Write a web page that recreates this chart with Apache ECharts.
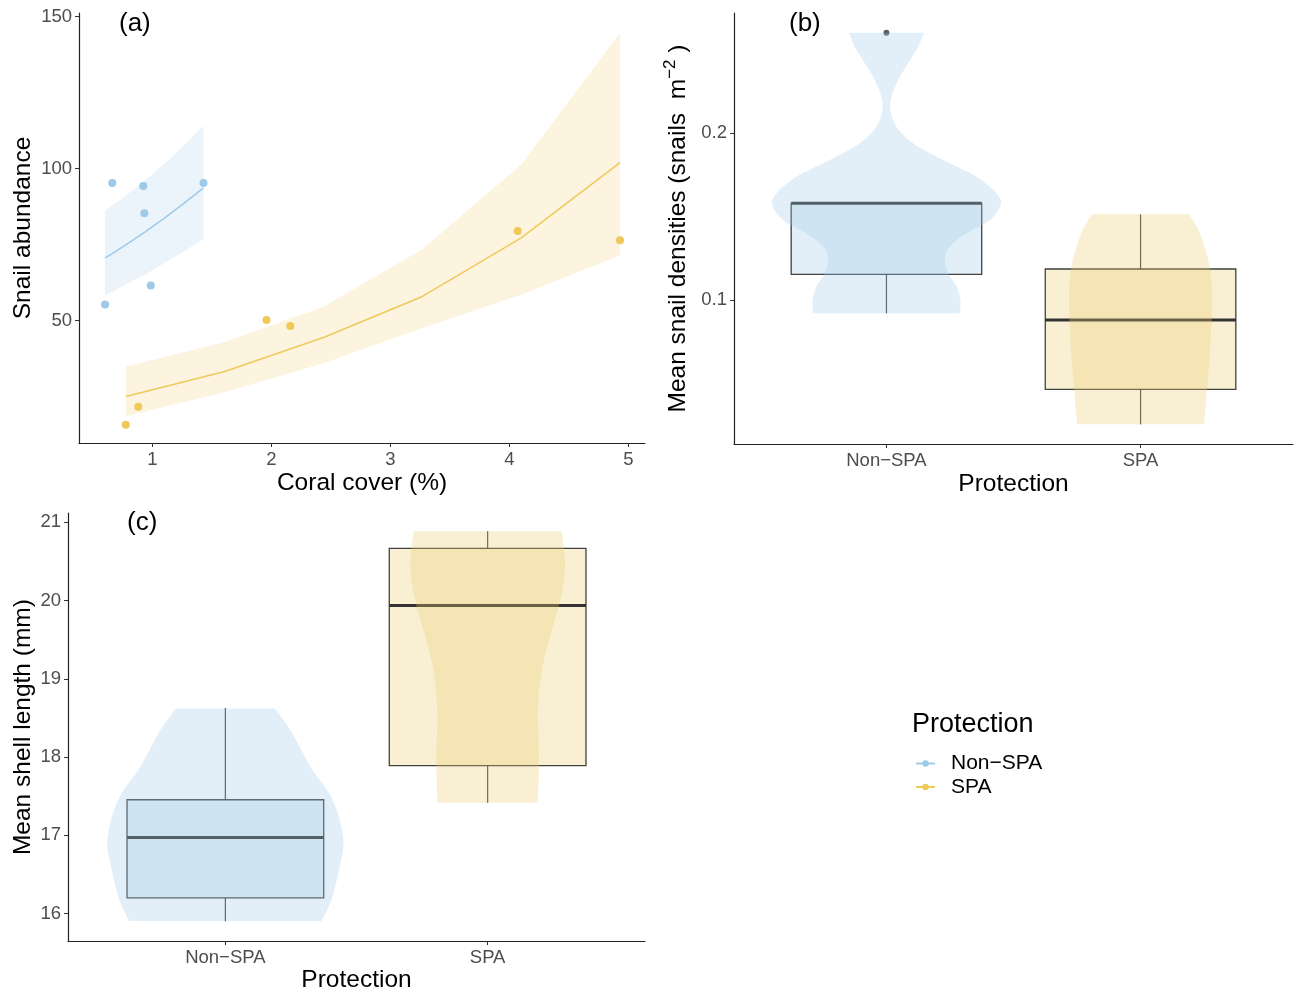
<!DOCTYPE html>
<html><head><meta charset="utf-8">
<script src="https://cdn.jsdelivr.net/npm/echarts@6/dist/echarts.min.js"></script>
<style>html,body{margin:0;padding:0;background:#fff}#c{width:1298px;height:994px}</style>
</head><body><div id="c"></div>
<script>
// ---------- Panel (a): snail abundance vs coral cover ----------
const coverTicks = [1, 2, 3, 4, 5];
const abundanceTicks = [50, 100, 150];
const nonSpaCover = [0.664, 0.924, 0.933, 1.43, 0.603, 0.987];
const nonSpaAbundance = [95.2, 94.2, 85.3, 95.2, 55.3, 61.5];
const spaCover = [0.777, 0.882, 1.96, 2.16, 4.07, 4.93];
const spaAbundance = [15.7, 21.6, 50.2, 48.2, 79.4, 76.4];
const nonSpaFitX = [0.603, 0.768, 0.934, 1.099, 1.265, 1.43];
const nonSpaFit = [70.5, 74.6, 79.0, 83.6, 88.5, 93.6];
const nonSpaLower = [58.2, 61.6, 65.0, 68.8, 72.7, 76.9];
const nonSpaUpper = [86.3, 90.8, 96.0, 101.5, 107.5, 114.1];
const spaFitX = [0.777, 1.608, 2.439, 3.269, 4.10, 4.93];
const spaFit = [25.0, 33.2, 44.4, 57.9, 77.2, 101.9];
const spaLower = [18.5, 26.4, 35.9, 47.5, 58.5, 71.4];
const spaUpper = [34.9, 42.9, 54.5, 73.4, 101.3, 144.6];

// ---------- Panel (b): mean snail densities ----------
const protectionCategories = ['Non\u2212SPA', 'SPA'];
const categoryPositions = [1, 2];
const densityTicks = [0.1, 0.2];
// [min, Q1, median, Q3, max]
const densityBoxNonSpa = [0.092, 0.1154, 0.158, 0.158, 0.158];
const densityBoxSpa = [0.0254, 0.0464, 0.088, 0.1186, 0.1514];
const densityOutliers = [[1, 0.2603]];
const densityViolinNonSpaY = [0.2603, 0.252, 0.242, 0.232, 0.222, 0.214, 0.204, 0.194, 0.184, 0.174, 0.164, 0.157, 0.148, 0.140, 0.132, 0.124, 0.116, 0.108, 0.100, 0.092];
const densityViolinNonSpaW = [0.147, 0.125, 0.085, 0.046, 0.020, 0.016, 0.039, 0.105, 0.223, 0.354, 0.433, 0.449, 0.407, 0.315, 0.249, 0.230, 0.243, 0.276, 0.291, 0.289];
const densityViolinSpaY = [0.1514, 0.142, 0.130, 0.118, 0.106, 0.094, 0.076, 0.058, 0.040, 0.0254];
const densityViolinSpaW = [0.192, 0.228, 0.256, 0.274, 0.281, 0.281, 0.276, 0.268, 0.258, 0.250];

// ---------- Panel (c): mean shell length ----------
const shellTicks = [16, 17, 18, 19, 20, 21];
const shellBoxNonSpa = [15.90, 16.20, 16.97, 17.454, 18.626];
const shellBoxSpa = [17.415, 17.891, 19.939, 20.669, 20.886];
const shellViolinNonSpaY = [18.622, 18.316, 17.849, 17.552, 17.254, 16.915, 16.616, 16.192, 15.903];
const shellViolinNonSpaW = [0.189, 0.253, 0.329, 0.393, 0.431, 0.450, 0.437, 0.406, 0.367];
const shellViolinSpaY = [20.886, 20.440, 20.015, 19.591, 19.166, 18.741, 18.316, 17.891, 17.415];
const shellViolinSpaW = [0.283, 0.295, 0.277, 0.242, 0.210, 0.194, 0.193, 0.196, 0.191];

// ---------- styling ----------
const FONT = 'Liberation Sans, Arial, Helvetica, sans-serif';
const BLUE = '#9ecae9';
const GOLD = '#f0c95a';
const BLUE_RIBBON = 'rgba(158,202,233,0.2)';
const GOLD_RIBBON = 'rgba(240,201,90,0.2)';
const BLUE_FILL = 'rgba(158,202,233,0.3)';
const GOLD_FILL = 'rgba(236,204,110,0.3)';
const BOX_HALF = 0.375;

const zip = (a, b) => a.map((v, i) => [v, b[i]]);

function spline(pts, seg) {
  const out = [];
  const n = pts.length;
  for (let i = 0; i < n - 1; i++) {
    const p0 = pts[Math.max(i - 1, 0)], p1 = pts[i], p2 = pts[i + 1], p3 = pts[Math.min(i + 2, n - 1)];
    for (let t = 0; t < seg; t++) {
      const s = t / seg, s2 = s * s, s3 = s2 * s;
      const f = k => 0.5 * (2 * p1[k] + (-p0[k] + p2[k]) * s + (2 * p0[k] - 5 * p1[k] + 4 * p2[k] - p3[k]) * s2 + (-p0[k] + 3 * p1[k] - 3 * p2[k] + p3[k]) * s3);
      out.push([f(0), f(1)]);
    }
  }
  out.push(pts[n - 1]);
  return out;
}

function ribbonSeries(gi, xs, lo, hi, fill) {
  return {
    type: 'custom', xAxisIndex: gi, yAxisIndex: gi, silent: true, z: 1,
    data: [[xs[0], lo[0]]],
    renderItem: (params, api) => {
      const top = xs.map((x, i) => api.coord([x, hi[i]]));
      const bot = xs.map((x, i) => api.coord([x, lo[i]])).reverse();
      return { type: 'polygon', shape: { points: top.concat(bot) }, style: { fill: fill } };
    }
  };
}

function violinSeries(gi, pos, ys, ws, fill) {
  return {
    type: 'custom', xAxisIndex: gi, yAxisIndex: gi, silent: true, z: 3,
    data: [[pos, ys[0]]],
    renderItem: (params, api) => {
      const left = spline(ys.map((y, i) => api.coord([pos - ws[i], y])), 8);
      const right = spline(ys.map((y, i) => api.coord([pos + ws[i], y])), 8).reverse();
      return { type: 'polygon', shape: { points: left.concat(right) }, style: { fill: fill } };
    }
  };
}

function boxSeries(gi, pos, stats, fill) {
  return {
    type: 'custom', xAxisIndex: gi, yAxisIndex: gi, silent: true, z: 2,
    data: [[pos].concat(stats)],
    encode: { x: 0, y: [1, 2, 3, 4, 5] },
    renderItem: (params, api) => {
      const x = api.value(0);
      const mn = api.value(1), q1 = api.value(2), md = api.value(3), q3 = api.value(4), mx = api.value(5);
      const c = api.coord([x, md]);
      const pMin = api.coord([x, mn]), pQ1 = api.coord([x, q1]), pQ3 = api.coord([x, q3]), pMax = api.coord([x, mx]);
      const tl = api.coord([x - BOX_HALF, q3]), br = api.coord([x + BOX_HALF, q1]);
      const ml = api.coord([x - BOX_HALF, md]), mr = api.coord([x + BOX_HALF, md]);
      const stroke = 'rgba(45,45,45,0.9)';
      return {
        type: 'group', children: [
          { type: 'line', shape: { x1: c[0], y1: pMin[1], x2: c[0], y2: pQ1[1] }, style: { stroke: stroke, lineWidth: 1.2 } },
          { type: 'line', shape: { x1: c[0], y1: pQ3[1], x2: c[0], y2: pMax[1] }, style: { stroke: stroke, lineWidth: 1.2 } },
          { type: 'rect', shape: { x: tl[0], y: tl[1], width: br[0] - tl[0], height: br[1] - tl[1] }, style: { fill: fill, stroke: stroke, lineWidth: 1.3 } },
          { type: 'line', shape: { x1: ml[0], y1: ml[1], x2: mr[0], y2: mr[1] }, style: { stroke: '#333', lineWidth: 3 } }
        ]
      };
    }
  };
}

const tickLabel = { color: '#4d4d4d', fontSize: 18.5, fontFamily: FONT };
const axisNameStyle = { color: '#000', fontSize: 24.5, fontFamily: FONT };
function baseAxis(gi, extra) {
  return Object.assign({
    gridIndex: gi, type: 'value',
    axisLine: { show: true, onZero: false, lineStyle: { color: '#222', width: 1.2 } },
    axisTick: { show: true, length: 4, lineStyle: { color: '#333', width: 1 } },
    splitLine: { show: false },
    nameLocation: 'middle',
    nameTextStyle: axisNameStyle
  }, extra);
}

const option = {
  animation: false,
  backgroundColor: '#fff',
  textStyle: { fontFamily: FONT },
  grid: [
    { left: 79, top: 13, width: 566, height: 430 },
    { left: 734, top: 13, width: 559, height: 431 },
    { left: 68, top: 513, width: 577, height: 430 }
  ],
  title: [
    { text: '(a)', left: 119, top: 11, padding: 0, textStyle: { fontSize: 26, fontWeight: 'normal', color: '#000', fontFamily: FONT } },
    { text: '(b)', left: 789, top: 11, padding: 0, textStyle: { fontSize: 26, fontWeight: 'normal', color: '#000', fontFamily: FONT } },
    { text: '(c)', left: 127, top: 510, padding: 0, textStyle: { fontSize: 26, fontWeight: 'normal', color: '#000', fontFamily: FONT } },
    { text: 'Protection', left: 912, top: 711, padding: 0, textStyle: { fontSize: 27, fontWeight: 'normal', color: '#000', fontFamily: FONT } }
  ],
  legend: {
    data: protectionCategories, orient: 'vertical', left: 910, top: 748,
    itemWidth: 19, itemHeight: 8, itemGap: 2.5, selectedMode: false,
    textStyle: { fontSize: 21, color: '#000', fontFamily: FONT, padding: [0, 0, 0, 11], lineHeight: 21 }
  },
  xAxis: [
    baseAxis(0, { min: 0.384, max: 5.14, name: 'Coral cover (%)', nameGap: 28,
      axisLabel: Object.assign({ customValues: coverTicks, margin: 7 }, tickLabel),
      axisTick: { show: true, length: 4, customValues: coverTicks, lineStyle: { color: '#333', width: 1 } } }),
    baseAxis(1, { min: 0.4, max: 2.6, name: 'Protection', nameGap: 28,
      axisLabel: Object.assign({ customValues: categoryPositions, margin: 7, formatter: v => protectionCategories[Math.round(v) - 1] }, tickLabel),
      axisTick: { show: true, length: 4, customValues: categoryPositions, lineStyle: { color: '#333', width: 1 } } }),
    baseAxis(2, { min: 0.4, max: 2.6, name: 'Protection', nameGap: 26,
      axisLabel: Object.assign({ customValues: categoryPositions, margin: 7, formatter: v => protectionCategories[Math.round(v) - 1] }, tickLabel),
      axisTick: { show: true, length: 4, customValues: categoryPositions, lineStyle: { color: '#333', width: 1 } } })
  ],
  yAxis: [
    baseAxis(0, { min: 9.7, max: 151.15, name: 'Snail abundance', nameGap: 43,
      axisLabel: Object.assign({ customValues: abundanceTicks, margin: 7 }, tickLabel),
      axisTick: { show: true, length: 4, customValues: abundanceTicks, lineStyle: { color: '#333', width: 1 } } }),
    baseAxis(1, { min: 0.0136, max: 0.2722, nameGap: 40,
      name: '{n|Mean snail densities (snails  m}{s|\u22122}{n| )}',
      nameTextStyle: { rich: {
        n: { fontSize: 24.5, color: '#000', fontFamily: FONT, lineHeight: 32 },
        s: { fontSize: 17, color: '#000', fontFamily: FONT, verticalAlign: 'top', lineHeight: 32 }
      } },
      axisLabel: Object.assign({ customValues: densityTicks, margin: 7, formatter: v => v.toFixed(1) }, tickLabel),
      axisTick: { show: true, length: 4, customValues: densityTicks, lineStyle: { color: '#333', width: 1 } } }),
    baseAxis(2, { min: 15.647, max: 21.12, name: 'Mean shell length (mm)', nameGap: 32,
      axisLabel: Object.assign({ customValues: shellTicks, margin: 7 }, tickLabel),
      axisTick: { show: true, length: 4, customValues: shellTicks, lineStyle: { color: '#333', width: 1 } } })
  ],
  series: [
    ribbonSeries(0, nonSpaFitX, nonSpaLower, nonSpaUpper, BLUE_RIBBON),
    ribbonSeries(0, spaFitX, spaLower, spaUpper, GOLD_RIBBON),
    { name: protectionCategories[0], type: 'line', xAxisIndex: 0, yAxisIndex: 0, data: zip(nonSpaFitX, nonSpaFit),
      symbol: 'circle', showSymbol: false, lineStyle: { color: BLUE, width: 1.5 }, itemStyle: { color: BLUE }, z: 4 },
    { name: protectionCategories[1], type: 'line', xAxisIndex: 0, yAxisIndex: 0, data: zip(spaFitX, spaFit),
      symbol: 'circle', showSymbol: false, lineStyle: { color: GOLD, width: 1.5 }, itemStyle: { color: GOLD }, z: 4 },
    { name: protectionCategories[0], type: 'scatter', xAxisIndex: 0, yAxisIndex: 0, data: zip(nonSpaCover, nonSpaAbundance),
      symbolSize: 8, itemStyle: { color: BLUE, opacity: 1 }, z: 5 },
    { name: protectionCategories[1], type: 'scatter', xAxisIndex: 0, yAxisIndex: 0, data: zip(spaCover, spaAbundance),
      symbolSize: 8, itemStyle: { color: GOLD, opacity: 1 }, z: 5 },

    boxSeries(1, categoryPositions[0], densityBoxNonSpa, BLUE_FILL),
    boxSeries(1, categoryPositions[1], densityBoxSpa, GOLD_FILL),
    { type: 'scatter', xAxisIndex: 1, yAxisIndex: 1, data: densityOutliers, symbolSize: 6, itemStyle: { color: '#333' }, z: 2, silent: true },
    violinSeries(1, categoryPositions[0], densityViolinNonSpaY, densityViolinNonSpaW, BLUE_FILL),
    violinSeries(1, categoryPositions[1], densityViolinSpaY, densityViolinSpaW, GOLD_FILL),

    boxSeries(2, categoryPositions[0], shellBoxNonSpa, BLUE_FILL),
    boxSeries(2, categoryPositions[1], shellBoxSpa, GOLD_FILL),
    violinSeries(2, categoryPositions[0], shellViolinNonSpaY, shellViolinNonSpaW, BLUE_FILL),
    violinSeries(2, categoryPositions[1], shellViolinSpaY, shellViolinSpaW, GOLD_FILL)
  ]
};

const chart = echarts.init(document.getElementById('c'), null, { renderer: 'canvas' });
chart.setOption(option);
</script>
</body></html>
